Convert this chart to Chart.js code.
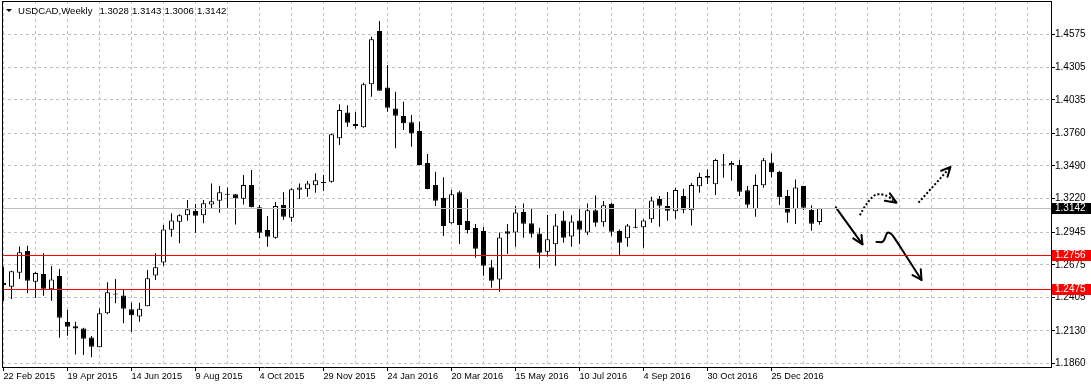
<!DOCTYPE html>
<html>
<head>
<meta charset="utf-8">
<title>USDCAD Weekly</title>
<script src="https://cdn.jsdelivr.net/npm/chart.js@4.4.1/dist/chart.umd.min.js"></script>
<style>
  html, body { margin: 0; padding: 0; background: #fff; }
  #wrap { width: 1091px; height: 388px; position: relative; }
</style>
</head>
<body>
<div id="wrap"><canvas id="chart"></canvas></div>
<script>
const symbolTitle = 'USDCAD,Weekly';
const lastQuote = ['1.3028', '1.3143', '1.3006', '1.3142'];

// weekly candles, first bar = week of 22 Feb 2015
const opens = [
  1.2528, 1.2495, 1.2610, 1.2789, 1.2536, 1.2599, 1.2473, 1.2583, 1.2204, 1.2168,
  1.2151, 1.2077, 1.1995, 1.2275, 1.2438, 1.2423, 1.2308, 1.2250, 1.2333, 1.2588,
  1.2695, 1.2964, 1.3030, 1.3083, 1.3118, 1.3083, 1.3173, 1.3203, 1.3252, 1.3256,
  1.3220, 1.3333, 1.3149, 1.2962, 1.2899, 1.3168, 1.3063, 1.3294, 1.3297, 1.3330,
  1.3350, 1.3360, 1.3717, 1.3931, 1.3835, 1.3808, 1.4162, 1.4602, 1.4137, 1.3964,
  1.3901, 1.3849, 1.3778, 1.3514, 1.3333, 1.3225, 1.3017, 1.3272, 1.3036, 1.2978,
  1.2953, 1.2654, 1.2555, 1.2951, 1.2942, 1.3110, 1.3017, 1.2934, 1.2783, 1.2844,
  1.3041, 1.2909, 1.3041, 1.2942, 1.3124, 1.3025, 1.3176, 1.2953, 1.2893, 1.2981,
  1.2984, 1.3050, 1.3217, 1.3160, 1.3116, 1.3242, 1.3124, 1.3322, 1.3407, 1.3338,
  1.3494, 1.3495, 1.3497, 1.3289, 1.3132, 1.3330, 1.3519, 1.3440, 1.3242, 1.3132,
  1.3324, 1.3127, 1.3028
];
const highs = [
  1.2660, 1.2627, 1.2825, 1.2833, 1.2616, 1.2770, 1.2665, 1.2640, 1.2303, 1.2206,
  1.2157, 1.2088, 1.2316, 1.2531, 1.2558, 1.2467, 1.2363, 1.2363, 1.2632, 1.2770,
  1.3003, 1.3099, 1.3091, 1.3209, 1.3176, 1.3209, 1.3346, 1.3324, 1.3313, 1.3258,
  1.3415, 1.3456, 1.3168, 1.3077, 1.3192, 1.3272, 1.3305, 1.3346, 1.3366, 1.3429,
  1.3415, 1.3757, 1.3998, 1.3989, 1.3934, 1.4176, 1.4555, 1.4684, 1.4321, 1.4102,
  1.4019, 1.3909, 1.3854, 1.3588, 1.3442, 1.3396, 1.3291, 1.3286, 1.3217, 1.3011,
  1.2989, 1.2714, 1.2942, 1.3011, 1.3159, 1.3181, 1.3140, 1.2981, 1.3085, 1.3094,
  1.3118, 1.3083, 1.3135, 1.3181, 1.3247, 1.3201, 1.3187, 1.2967, 1.3011, 1.3143,
  1.3050, 1.3236, 1.3242, 1.3275, 1.3311, 1.3302, 1.3349, 1.3434, 1.3462, 1.3550,
  1.3588, 1.3530, 1.3539, 1.3324, 1.3420, 1.3555, 1.3594, 1.3451, 1.3291, 1.3379,
  1.3327, 1.3165, 1.3143
];
const lows = [
  1.2379, 1.2393, 1.2558, 1.2440, 1.2401, 1.2421, 1.2379, 1.2075, 1.2091, 1.1937,
  1.1932, 1.1913, 1.1995, 1.2267, 1.2358, 1.2193, 1.2121, 1.2206, 1.2333, 1.2550,
  1.2665, 1.2907, 1.2852, 1.3039, 1.2940, 1.3017, 1.3140, 1.3104, 1.3146, 1.3008,
  1.3173, 1.3149, 1.2893, 1.2824, 1.2890, 1.3044, 1.3030, 1.3217, 1.3236, 1.3269,
  1.3283, 1.3352, 1.3662, 1.3813, 1.3799, 1.3805, 1.4060, 1.4110, 1.3937, 1.3635,
  1.3786, 1.3648, 1.3495, 1.3297, 1.3159, 1.2912, 1.3014, 1.2846, 1.2934, 1.2734,
  1.2585, 1.2486, 1.2454, 1.2764, 1.2824, 1.2898, 1.2901, 1.2646, 1.2742, 1.2668,
  1.2857, 1.2824, 1.2846, 1.2920, 1.2989, 1.2989, 1.2912, 1.2756, 1.2824, 1.2976,
  1.2816, 1.3022, 1.2989, 1.3039, 1.3055, 1.3099, 1.3000, 1.3269, 1.3341, 1.3250,
  1.3393, 1.3368, 1.3242, 1.3146, 1.3072, 1.3311, 1.3396, 1.3168, 1.3022, 1.3011,
  1.3127, 1.2956, 1.3006
];
const closes = [
  1.2506, 1.2621, 1.2778, 1.2544, 1.2608, 1.2478, 1.2555, 1.2239, 1.2165, 1.2151,
  1.2066, 1.2000, 1.2275, 1.2448, 1.2430, 1.2314, 1.2259, 1.2314, 1.2564, 1.2654,
  1.2967, 1.3041, 1.3083, 1.3132, 1.3080, 1.3182, 1.3198, 1.3272, 1.3260, 1.3223,
  1.3333, 1.3149, 1.2940, 1.2907, 1.3160, 1.3072, 1.3297, 1.3313, 1.3346, 1.3371,
  1.3358, 1.3750, 1.3951, 1.3846, 1.3819, 1.4162, 1.4533, 1.4110, 1.3970, 1.3904,
  1.3841, 1.3758, 1.3497, 1.3300, 1.3203, 1.2995, 1.3256, 1.3003, 1.2962, 1.2808,
  1.2668, 1.2544, 1.2901, 1.2931, 1.3107, 1.3014, 1.2931, 1.2775, 1.2885, 1.3000,
  1.2898, 1.3033, 1.2964, 1.3124, 1.3022, 1.3165, 1.2948, 1.2857, 1.3000, 1.2989,
  1.3041, 1.3206, 1.3162, 1.3121, 1.3291, 1.3129, 1.3333, 1.3398, 1.3393, 1.3539,
  1.3502, 1.3514, 1.3278, 1.3170, 1.3333, 1.3536, 1.3437, 1.3231, 1.3105, 1.3313,
  1.3146, 1.3014, 1.3142
];
const weeks = opens.map((_, i) => i);

// a date label every 8 weeks, a grid line every 4
const dateLabels = ['22 Feb 2015', '19 Apr 2015', '14 Jun 2015', '9 Aug 2015', '4 Oct 2015',
  '29 Nov 2015', '24 Jan 2016', '20 Mar 2016', '15 May 2016', '10 Jul 2016',
  '4 Sep 2016', '30 Oct 2016', '25 Dec 2016'];
const gridWeeks = [];
for (let w = 0; w <= 128; w += 4) gridWeeks.push(w);

const priceTicks = [1.4575, 1.4305, 1.4035, 1.3760, 1.3490, 1.3220, 1.2945, 1.2675, 1.2405, 1.2130, 1.1860];
const bidLevel = 1.3142;
const supportLevels = [1.2756, 1.2475];

// hand drawn arrows as [week, price]
const arrowDownShaft = [[104.04, 1.3149], [107.375, 1.2844]];
const arrowDownHead = [[106.21, 1.2893], [107.375, 1.2844], [107.25, 1.2921]];
const arrowDropShaft = [[109.125, 1.2863], [109.875, 1.2865], [110.19, 1.2896], [110.5, 1.2940],
  [110.875, 1.2933], [111.21, 1.2912], [112.99, 1.2731], [114.75, 1.2550]];
const arrowDropHead = [[113.625, 1.2591], [114.75, 1.2550], [114.66, 1.2638]];
const arrowBounceShaft = [[107.04, 1.3083], [107.625, 1.3151], [108.29, 1.3209], [108.75, 1.3242],
  [109.34, 1.3256], [110.0, 1.3252], [110.59, 1.3236], [111.625, 1.3187]];
const arrowBounceHead = [[110.16, 1.3203], [111.625, 1.3187], [110.79, 1.3264]];
const arrowUpShaft = [[114.375, 1.3187], [118.375, 1.3481]];
const arrowUpHead = [[117.21, 1.3450], [118.375, 1.3481], [118.0, 1.3401]];

const FONT = "'Liberation Sans', Arial, sans-serif";
Chart.defaults.font.family = FONT;
Chart.defaults.font.size = 10;
Chart.defaults.color = '#000';

function labelFor(v) {
  if (v % 8 !== 0) return '';
  return dateLabels[v / 8] || '';
}

function arrowSet(points, dashed, smooth) {
  return {
    type: 'line',
    data: points.map(p => ({x: p[0], y: p[1]})),
    borderColor: '#000',
    borderWidth: 2,
    borderDash: dashed ? [2, 2] : [],
    borderCapStyle: dashed ? 'butt' : 'round',
    borderJoinStyle: 'round',
    tension: smooth ? 0.4 : 0,
    pointRadius: 0,
    fill: false,
    order: 0
  };
}

function drawLevel(chart, v, color) {
  const {ctx, chartArea: a, scales: {y}} = chart;
  const py = Math.round(y.getPixelForValue(v));
  ctx.save();
  ctx.globalCompositeOperation = 'source-over';
  ctx.globalAlpha = 1;
  ctx.fillStyle = color;
  ctx.fillRect(a.left + 1, py, a.right - a.left - 1, 1);
  ctx.restore();
}

const mtFrame = {
  id: 'mtFrame',
  afterDatasetsDraw(chart) {
    drawLevel(chart, bidLevel, 'rgb(192,192,192)');
    supportLevels.forEach(v => drawLevel(chart, v, 'rgb(255,0,0)'));
  },
  afterDraw(chart) {
    const {ctx, chartArea: a, scales: {y}} = chart;
    ctx.save();
    // left and top border of the chart window
    ctx.fillStyle = '#000';
    ctx.fillRect(a.left, a.top, 1, a.bottom - a.top);
    ctx.fillRect(a.left, a.top, a.right - a.left, 1);

    // price boxes on the right axis
    const box = (v, bg) => {
      const py = Math.round(y.getPixelForValue(v));
      ctx.fillStyle = bg;
      ctx.fillRect(y.left + 1, py - 5, chart.width - y.left - 1, 11);
      ctx.fillStyle = '#fff';
      ctx.font = '10px ' + FONT;
      ctx.textBaseline = 'middle';
      ctx.textAlign = 'left';
      ctx.fillText(v.toFixed(4), y.left + 4, py + 0.5);
    };
    box(bidLevel, '#000');
    supportLevels.forEach(v => box(v, 'rgb(255,0,0)'));

    // window title
    ctx.fillStyle = '#000';
    ctx.beginPath();
    ctx.moveTo(6, 9);
    ctx.lineTo(12, 9);
    ctx.lineTo(9, 12);
    ctx.closePath();
    ctx.fill();
    ctx.font = '9.6px ' + FONT;
    ctx.textBaseline = 'middle';
    ctx.fillText(symbolTitle, 18, 11);
    let tx = 18 + ctx.measureText(symbolTitle).width + 7;
    lastQuote.forEach(q => {
      ctx.fillText(q, tx, 11);
      tx += ctx.measureText(q + ' ').width + 0.5;
    });
    ctx.restore();
  }
};

new Chart(document.getElementById('chart'), {
  type: 'bar',
  data: {
    datasets: [
      {
        label: 'bodies',
        data: weeks.map(i => ({x: i, y: [opens[i], closes[i]]})),
        backgroundColor: c => closes[c.dataIndex] >= opens[c.dataIndex] ? '#fff' : '#000',
        borderColor: '#000',
        borderWidth: 1,
        borderSkipped: false,
        barThickness: 5,
        grouped: false,
        inflateAmount: 0,
        order: 1
      },
      {
        label: 'wicks',
        data: weeks.map(i => ({x: i, y: [lows[i], highs[i]]})),
        backgroundColor: '#000',
        borderWidth: 0,
        barThickness: 1,
        grouped: false,
        inflateAmount: 0,
        order: 2
      },
      arrowSet(arrowDownShaft, false, false),
      arrowSet(arrowDownHead, false, false),
      arrowSet(arrowDropShaft, false, true),
      arrowSet(arrowDropHead, false, false),
      arrowSet(arrowBounceShaft, true, true),
      arrowSet(arrowBounceHead, false, false),
      arrowSet(arrowUpShaft, true, false),
      arrowSet(arrowUpHead, false, false)
    ]
  },
  options: {
    responsive: true,
    maintainAspectRatio: false,
    animation: false,
    events: [],
    layout: { padding: { left: 2, top: 1, right: 0, bottom: 0 } },
    plugins: {
      legend: { display: false },
      tooltip: { enabled: false }
    },
    scales: {
      x: {
        type: 'linear',
        min: -0.1875,
        max: 130.9375,
        offset: false,
        afterBuildTicks: s => { s.ticks = gridWeeks.map(v => ({value: v})); },
        afterFit: s => { s.height = 21; s.paddingLeft = 0; s.paddingRight = 0; },
        grid: {
          offset: false,
          color: '#c0c0c0',
          lineWidth: 1,
          tickLength: 4,
          tickColor: c => labelFor(c.tick.value) ? '#000' : 'rgba(0,0,0,0)'
        },
        border: { color: '#000', width: 1, dash: [3, 3] },
        ticks: {
          autoSkip: false,
          maxRotation: 0,
          align: 'start',
          padding: 0,
          font: { size: 9.2 },
          callback: v => labelFor(v)
        }
      },
      y: {
        position: 'right',
        min: 1.1833,
        max: 1.4849,
        beginAtZero: false,
        afterBuildTicks: s => { s.ticks = priceTicks.map(v => ({value: v})); },
        afterFit: s => { s.width = 40; s.paddingTop = 0; s.paddingBottom = 0; },
        grid: { color: '#c0c0c0', lineWidth: 1, tickLength: 4, tickColor: '#000' },
        border: { color: '#000', width: 1, dash: [3, 3] },
        ticks: { padding: 0, callback: v => v.toFixed(4) }
      }
    }
  },
  plugins: [mtFrame]
});
</script>
</body>
</html>
